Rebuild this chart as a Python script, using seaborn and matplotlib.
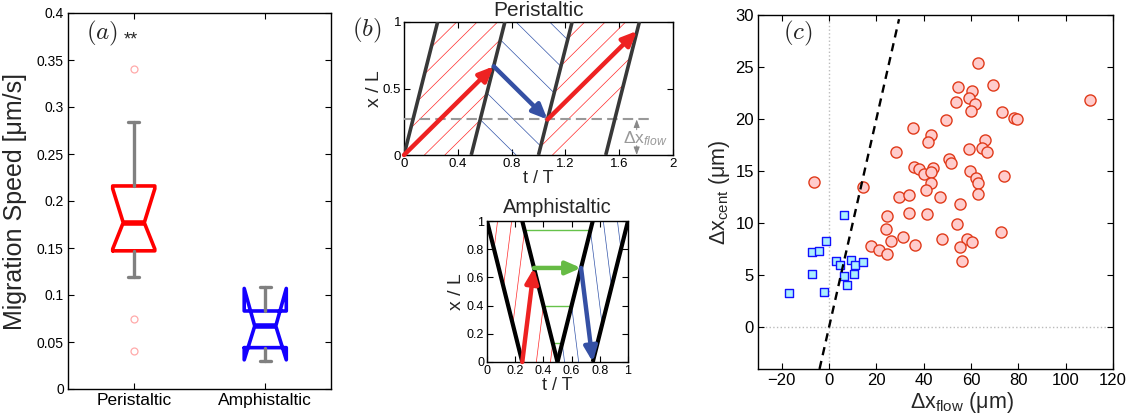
import numpy as np
import pandas as pd
import matplotlib
matplotlib.use('Agg')
import matplotlib.pyplot as plt
import seaborn as sns

# ---- (a) box summaries
groups = ['Peristaltic', 'Amphistaltic']
box_q1 = [0.147, 0.044]
box_med = [0.177, 0.067]
box_q3 = [0.216, 0.083]
whisk_lo = [0.119, 0.030]
whisk_hi = [0.284, 0.109]
notch_lo = [0.149, 0.031]
notch_hi = [0.213, 0.107]
outliers = [[0.340, 0.075, 0.040], []]
box_colors = ['#ff0000', '#1400ff']
speed_ticks = [0, 0.05, 0.1, 0.15, 0.2, 0.25, 0.3, 0.35, 0.4]

# ---- (b) schematic: wave fronts and particle paths
peri_wave_starts = [0.0, 0.5, 1.0, 1.5]
wave_cross_time = 0.25
peri_fwd_offsets_1 = [-0.608, -0.456, -0.304, -0.152, 0.0, 0.152, 0.304]
peri_back_offsets = [0.833, 1.083, 1.333, 1.583, 1.833, 2.083]
peri_fwd_offsets_3 = [0.344, 0.496, 0.648, 0.8, 0.952, 1.104]
peri_path_t = [0.0, 0.667, 1.067, 1.733]
peri_path_x = [0.0, 0.667, 0.267, 0.933]
dx_flow_level = 0.267
peri_ticks = [0, 0.4, 0.8, 1.2, 1.6, 2]

amphi_front_t = [[0, 0.25], [0.25, 0.5], [0.5, 0.75], [0.75, 1.0]]
amphi_front_x = [[1, 0], [1, 0], [0, 1], [0, 1]]
amphi_red_starts = [-0.05, 0.05, 0.15, 0.25, 0.35, 0.45]
amphi_blue_starts = [0.55, 0.65, 0.75, 0.85, 0.95, 1.05]
amphi_slope = 8.0
amphi_green_levels = [0.133, 0.4, 0.933]
amphi_path_t = [0.25, 0.333, 0.667, 0.75]
amphi_path_x = [0.0, 0.667, 0.667, 0.0]
amphi_ticks = [0, 0.2, 0.4, 0.6, 0.8, 1]

# ---- (c) centroid displacement vs flow displacement (um)
peri_dx_flow = [63.1, 54.5, 69.5, 60.6, 59.0, 61.6, 53.5, 60.0, 110.1, 73.3,
                78.1, 79.3, 49.3, 35.3, 42.9, 41.9, 59.3, 65.9, 64.5, 66.6,
                28.1, 50.7, 51.7, 35.9, 38.1, 40.1, 44.0, 43.2, 59.7, 73.8,
                62.1, 63.1, 42.9, -6.4, 14.3, 40.9, 29.4, 33.7, 46.7, 62.8,
                55.3, 33.7, 41.6, 24.3, 54.1, 24.1, 72.6, 31.1, 47.9, 26.4,
                58.2, 60.4, 17.8, 36.4, 21.0, 55.3, 24.6, 56.3]
peri_dx_cent = [25.4, 23.1, 23.3, 22.7, 22.0, 21.5, 21.6, 20.8, 21.8, 20.7,
                20.1, 20.0, 19.9, 19.1, 18.5, 17.8, 17.1, 18.0, 17.2, 16.8,
                16.8, 16.2, 15.8, 15.4, 15.2, 14.7, 15.3, 14.9, 15.0, 14.5,
                14.3, 13.9, 13.9, 14.0, 13.5, 13.2, 12.5, 12.7, 12.5, 12.8,
                11.8, 11.0, 10.9, 10.7, 9.9, 9.4, 9.2, 8.7, 8.5, 8.3,
                8.5, 8.2, 7.8, 7.9, 7.4, 7.7, 7.0, 6.4]
amphi_dx_flow = [6.4, -1.4, -7.1, -4.2, 3.1, 4.5, 9.2, 11.0, 14.4, -7.1,
                 6.2, 10.7, 7.5, -2.0, -16.9]
amphi_dx_cent = [10.8, 8.3, 7.2, 7.3, 6.4, 6.0, 6.5, 6.0, 6.3, 5.1,
                 4.9, 5.1, 4.1, 3.4, 3.3]
unity_span = [-4.0, 29.6]

sns.set_theme(style='ticks')
plt.rcParams['font.family'] = ['Liberation Sans', 'DejaVu Sans']
plt.rcParams['mathtext.fontset'] = 'custom'
plt.rcParams['mathtext.rm'] = 'Liberation Sans'
plt.rcParams['mathtext.it'] = 'Liberation Sans:italic'
plt.rcParams['axes.edgecolor'] = 'black'
plt.rcParams['axes.linewidth'] = 1.0

W, H = 1131, 416
fig = plt.figure(figsize=(W / 100, H / 100), dpi=100)


def box_axes(l, t, r, b):
    return fig.add_axes([l / W, 1 - b / H, (r - l) / W, (b - t) / H])


def matlab_ticks(ax, size):
    ax.tick_params(direction='in', top=True, right=True, length=4, width=0.8,
                   labelsize=size, colors='black', pad=3)


def arrow(ax, p0, p1, color, lw):
    ax.annotate('', xy=p1, xytext=p0,
                arrowprops=dict(arrowstyle='-|>,head_length=0.8,head_width=0.35',
                                color=color, lw=lw, shrinkA=0, shrinkB=0,
                                mutation_scale=11), zorder=5)


def hatch(ax, t, x, lower, upper, **kw):
    keep = (x >= lower) & (x <= upper) & (x >= 0) & (x <= 1)
    ax.plot(t, np.where(keep, x, np.nan), **kw)


# ================= (a) =================
ax_a = box_axes(68, 13, 331, 389)
for i, g in enumerate(groups):
    st = dict(label=g, q1=box_q1[i], med=box_med[i], q3=box_q3[i],
              whislo=whisk_lo[i], whishi=whisk_hi[i],
              cilo=notch_lo[i], cihi=notch_hi[i], fliers=outliers[i])
    ax_a.bxp([st], positions=[i + 1], widths=0.32, capwidths=0.08,
             shownotches=True, manage_ticks=False,
             boxprops=dict(color=box_colors[i], lw=2.6),
             medianprops=dict(color=box_colors[i], lw=4.0),
             whiskerprops=dict(color='#808080', lw=2.4),
             capprops=dict(color='#808080', lw=2.4),
             flierprops=dict(marker='o', mfc='none', mec='#ffaaaa', ms=5, mew=0.9))
ax_a.set_xlim(0.5, 2.5)
ax_a.set_ylim(0, 0.4)
ax_a.set_xticks([1, 2])
ax_a.set_xticklabels(groups)
ax_a.set_yticks(speed_ticks)
ax_a.set_yticklabels([f'{v:g}' for v in speed_ticks])
matlab_ticks(ax_a, 10)
ax_a.tick_params(axis='x', labelsize=12.5)
ax_a.set_ylabel('Migration Speed [μm/s]', fontsize=18, labelpad=7)
ax_a.text(0.07, 0.985, '$(a)$', transform=ax_a.transAxes, fontsize=18,
          va='top', math_fontfamily='cm')
ax_a.text(0.21, 0.95, '**', transform=ax_a.transAxes, fontsize=13, va='top')

# ================= (b) peristaltic =================
ax_p = box_axes(404, 22, 673, 155)
t = np.linspace(0, 2, 16001)
for s in peri_wave_starts:
    ax_p.plot([s, s + wave_cross_time], [0, 1], color='#383838', lw=2.6,
              solid_capstyle='butt', zorder=4)
for c in peri_fwd_offsets_1:
    hatch(ax_p, t, t - c, (t - 0.5) / wave_cross_time, t / wave_cross_time,
          color='#ff2a2a', lw=0.5)
for d in peri_back_offsets:
    hatch(ax_p, t, d - t, (t - 1.0) / wave_cross_time, (t - 0.5) / wave_cross_time,
          color='#3355aa', lw=0.5)
for c in peri_fwd_offsets_3:
    hatch(ax_p, t, t - c, (t - 1.5) / wave_cross_time, (t - 1.0) / wave_cross_time,
          color='#ff2a2a', lw=0.5)
ax_p.plot([0, 1.83], [dx_flow_level, dx_flow_level], color='#999999', lw=1.5,
          dashes=(5, 2.5), zorder=3)
seg_colors = ['#ee2222', '#3550a4', '#ee2222']
for k in range(3):
    arrow(ax_p, (peri_path_t[k], peri_path_x[k]),
          (peri_path_t[k + 1], peri_path_x[k + 1]), seg_colors[k], 3.2)
ax_p.annotate('', xy=(1.73, dx_flow_level), xytext=(1.73, 0.19),
              arrowprops=dict(arrowstyle='-|>,head_length=0.4,head_width=0.15',
                              color='#888888', lw=0.7, shrinkA=0, shrinkB=0))
ax_p.annotate('', xy=(1.73, 0.0), xytext=(1.73, 0.07),
              arrowprops=dict(arrowstyle='-|>,head_length=0.4,head_width=0.15',
                              color='#888888', lw=0.7, shrinkA=0, shrinkB=0))
ax_p.text(1.63, 0.125, r'Δx$_{\mathit{flow}}$', color='#999999', fontsize=12.5,
          va='center', ha='left')
ax_p.set_xlim(0, 2)
ax_p.set_ylim(0, 1)
ax_p.set_xticks(peri_ticks)
ax_p.set_xticklabels([f'{v:g}' for v in peri_ticks])
ax_p.set_yticks([0, 0.5, 1])
ax_p.set_yticklabels(['0', '0.5', '1'])
matlab_ticks(ax_p, 9.5)
ax_p.tick_params(pad=2)
ax_p.set_title('Peristaltic', fontsize=15, pad=4)
ax_p.set_xlabel('t / T', fontsize=13, labelpad=0)
ax_p.set_ylabel('x / L', fontsize=14, labelpad=0)
fig.text(352 / W, 1 - 16 / H, '$(b)$', fontsize=18, va='top', math_fontfamily='cm')

# ================= (b) amphistaltic =================
ax_m = box_axes(487, 221, 628, 362)
ta = np.linspace(0, 1, 8001)
for t0 in amphi_red_starts:
    hatch(ax_m, ta, amphi_slope * (ta - t0), 1 - ta / wave_cross_time,
          2 - ta / wave_cross_time, color='#ff2a2a', lw=0.5)
for t1 in amphi_blue_starts:
    hatch(ax_m, ta, -amphi_slope * (ta - t1), ta / wave_cross_time - 3,
          ta / wave_cross_time - 2, color='#3355aa', lw=0.5)
for lvl in amphi_green_levels:
    ax_m.plot([(2 - lvl) * wave_cross_time, 0.5 + lvl * wave_cross_time], [lvl, lvl],
              color='#66c24a', lw=1.0)
for ft, fx in zip(amphi_front_t, amphi_front_x):
    ax_m.plot(ft, fx, color='black', lw=3.0, solid_capstyle='butt', zorder=4)
seg_colors = ['#ee2222', '#66bb44', '#3550a4']
for k in range(3):
    arrow(ax_m, (amphi_path_t[k], amphi_path_x[k]),
          (amphi_path_t[k + 1], amphi_path_x[k + 1]), seg_colors[k], 3.2)
ax_m.set_xlim(0, 1)
ax_m.set_ylim(0, 1)
ax_m.set_xticks(amphi_ticks)
ax_m.set_xticklabels([f'{v:g}' for v in amphi_ticks])
ax_m.set_yticks(amphi_ticks)
ax_m.set_yticklabels([f'{v:g}' for v in amphi_ticks])
matlab_ticks(ax_m, 9)
ax_m.tick_params(pad=2)
ax_m.set_title('Amphistaltic', fontsize=14.5, pad=6)
ax_m.set_xlabel('t / T', fontsize=13, labelpad=0)
ax_m.set_ylabel('x / L', fontsize=14, labelpad=1)

# ================= (c) =================
ax_c = box_axes(758, 15, 1113, 369)
ax_c.axvline(0, color='#bbbbbb', lw=1.0, ls=':', zorder=0)
ax_c.axhline(0, color='#bbbbbb', lw=1.0, ls=':', zorder=0)
ax_c.plot(unity_span, unity_span, color='black', lw=1.7, dashes=(3.5, 2.5), zorder=4)
peri_df = pd.DataFrame({'dx_flow': peri_dx_flow, 'dx_cent': peri_dx_cent})
amphi_df = pd.DataFrame({'dx_flow': amphi_dx_flow, 'dx_cent': amphi_dx_cent})
sns.scatterplot(data=peri_df, x='dx_flow', y='dx_cent', ax=ax_c, marker='o', s=64,
                color='#ffcccc', edgecolor='#e03a1a', linewidth=1.0, zorder=3)
sns.scatterplot(data=amphi_df, x='dx_flow', y='dx_cent', ax=ax_c, marker='s', s=36,
                color='#aaeeff', edgecolor='#1010ff', linewidth=1.0, zorder=3)
ax_c.set_xlim(-30, 120)
ax_c.set_ylim(-4, 30)
ax_c.set_xticks(range(-20, 121, 20))
ax_c.set_yticks(range(0, 31, 5))
matlab_ticks(ax_c, 12)
ax_c.set_xlabel(r'Δx$_{\mathrm{flow}}$ (μm)', fontsize=15.5, labelpad=0)
ax_c.xaxis.set_label_coords(0.575, -0.06)
ax_c.set_ylabel(r'Δx$_{\mathrm{cent}}$ (μm)', fontsize=15.5, labelpad=2)
ax_c.text(0.07, 0.99, '$(c)$', transform=ax_c.transAxes, fontsize=18,
          va='top', math_fontfamily='cm')

fig.savefig('out.png', dpi=100)
